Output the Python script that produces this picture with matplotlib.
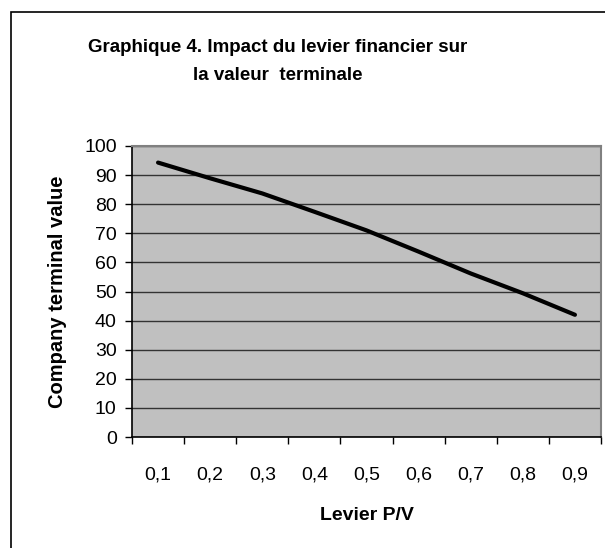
import matplotlib
matplotlib.use('Agg')
from matplotlib import pyplot as plt
from matplotlib.patches import Rectangle

levier = ['0,1', '0,2', '0,3', '0,4', '0,5', '0,6', '0,7', '0,8', '0,9']
valeur = [94.3, 88.9, 83.7, 77.4, 71.0, 63.7, 56.2, 49.4, 42.0]
y_ticks = [0, 10, 20, 30, 40, 50, 60, 70, 80, 90, 100]

plt.rcParams['font.family'] = ['Liberation Sans', 'DejaVu Sans']

fig = plt.figure(figsize=(6.05, 5.48), dpi=100)
W, H = 605, 548

# outer chart frame (right and bottom edges run past the picture)
fig.patches.append(Rectangle((11 / W, -0.05), 1.1, 1.05 - 12 / H, transform=fig.transFigure,
                             fill=False, edgecolor='black', linewidth=1.2))

ax = fig.add_axes([132 / W, (H - 437) / H, (601 - 132) / W, (437 - 146) / H])
ax.set_facecolor('#c0c0c0')

x = list(range(1, len(levier) + 1))
ax.plot(x, valeur, color='black', linewidth=3, solid_capstyle='round', zorder=3)

ax.set_xlim(0.5, len(levier) + 0.5)
ax.set_ylim(0, 100)
ax.set_yticks(y_ticks)
ax.yaxis.grid(True, color='#333333', linewidth=1)
ax.set_axisbelow(True)

ax.set_xticks(x)
ax.set_xticklabels(levier)
ax.set_xticks([i + 0.5 for i in range(len(levier) + 1)], minor=True)
ax.tick_params(axis='x', which='major', length=0, pad=21, labelsize=14)
ax.tick_params(axis='x', which='minor', length=5, width=1, direction='out')
ax.tick_params(axis='y', length=5, width=1, pad=6, labelsize=14)

for s in ['top', 'right']:
    ax.spines[s].set_color('#808080')
    ax.spines[s].set_linewidth(1.5)
ax.spines['left'].set_linewidth(1.2)
ax.spines['bottom'].set_linewidth(1.2)

ax.set_ylabel('Company terminal value', fontsize=14.5, fontweight='bold', labelpad=12)
ax.set_xlabel('Levier P/V', fontsize=14, fontweight='bold', labelpad=17)

fig.text(278 / W, 1 - 47 / H, 'Graphique 4. Impact du levier financier sur',
         ha='center', va='center', fontsize=13.5, fontweight='bold')
fig.text(278 / W, 1 - 75 / H, 'la valeur  terminale',
         ha='center', va='center', fontsize=13.5, fontweight='bold')

plt.savefig('out.png', dpi=100)
